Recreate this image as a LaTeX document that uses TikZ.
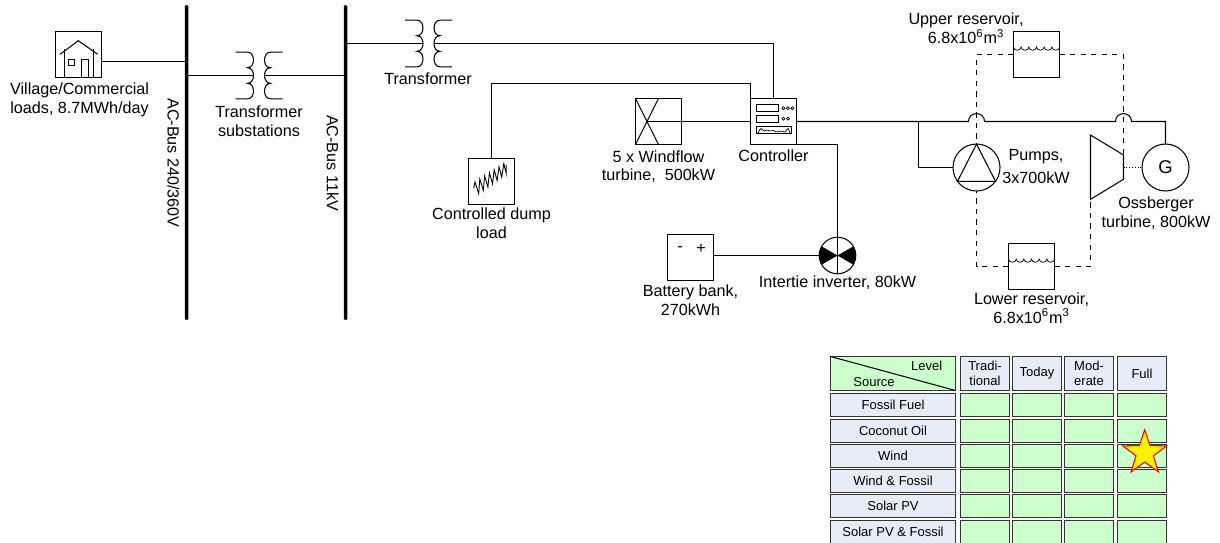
\documentclass[tikz,border=0pt]{standalone}
\usepackage{fontspec}
\setmainfont{Liberation Sans}
\usetikzlibrary{positioning, shapes.geometric}
\definecolor{cellgreen}{HTML}{CCFFCC}
\definecolor{cellblue}{HTML}{E6ECF8}
\tikzset{
    xfmr/.pic={
        \coordinate (-in) at (-5.5,0);
        \coordinate (-out) at (5.5,0);
        \draw (-23.5,-23.3) -- (-11.5,-23.3)
            .. controls (-3.5,-23.3) and (-3.5,-7.8) .. (-11.5,-7.8)
            .. controls (-3.5,-7.8) and (-3.5,7.8) .. (-11.5,7.8)
            .. controls (-3.5,7.8) and (-3.5,23.3) .. (-11.5,23.3) -- (-23.5,23.3);
        \draw (23.5,-23.3) -- (11.5,-23.3)
            .. controls (3.5,-23.3) and (3.5,-7.8) .. (11.5,-7.8)
            .. controls (3.5,-7.8) and (3.5,7.8) .. (11.5,7.8)
            .. controls (3.5,7.8) and (3.5,23.3) .. (11.5,23.3) -- (23.5,23.3);
    }
}
\begin{document}
\begin{tikzpicture}[
    x=0.02cm, y=-0.02cm,
    line width=0.6pt,
    font=\fontsize{9.2}{10.8}\selectfont,
    busbar/.style={fill=black, rounded corners=0.7pt, minimum width=0.07cm, minimum height=6.3cm, inner sep=0pt, outer sep=0pt},
    unit/.style={draw, minimum size=0.92cm, inner sep=0pt, outer sep=0pt},
    round/.style={draw, circle, minimum size=0.94cm, inner sep=0pt, outer sep=0pt},
    lbl/.style={align=center, inner sep=0pt},
    cell/.style={draw=black!80, fill=cellgreen, minimum width=0.98cm, minimum height=0.46cm, inner sep=0pt, outer sep=0pt},
    rowhead/.style={draw=black!80, fill=cellblue, minimum width=2.5cm, minimum height=0.46cm, inner sep=0pt, outer sep=0pt,
                    font=\fontsize{7.4}{8.9}\selectfont},
    colhead/.style={draw=black!80, fill=cellblue, minimum width=0.98cm, minimum height=0.68cm, inner sep=0pt, outer sep=0pt,
                    align=center, font=\fontsize{7.4}{8.9}\selectfont},
    water/.style={line width=0.4pt}
]
\useasboundingbox (0,0) rectangle (1220,542);
\node[busbar] (bus1) at (186.5,162.5) {};
\node[busbar] (bus2) at (345.5,162.5) {};
\node[lbl, rotate=-90] (bus1txt) at (173.3,163) {AC-Bus 240/360V};
\node[lbl, rotate=-90] (bus2txt) at (332.7,163) {AC-Bus 11kV};

\node[unit] (house) at (78.5,54.5) {};
\draw (60,54.3) -- (78.3,40.7) -- (97.7,54.3);
\draw (64.5,49) -- (64.5,77.5) (93.5,49) -- (93.5,77.5);
\draw (81.5,77.5) -- (81.5,59.5) -- (88.5,59.5) -- (88.5,77.5);
\draw (68.5,59.5) rectangle (74.5,65.5);
\node[lbl, below=2.5pt of house, xshift=0.6pt] (housetxt) {Village/Commercial\\loads, 8.7MWh/day};
\coordinate (housetap) at (101.5,61.5);
\draw (housetap) -- (housetap -| bus1);

\pic (xfma) at (259,75.5) {xfmr};
\pic (xfmb) at (428.5,43.5) {xfmr};
\draw (bus1 |- xfma-in) -- (xfma-in);
\draw (xfma-out) -- (bus2 |- xfma-out);
\draw (bus2 |- xfmb-in) -- (xfmb-in);
\node[lbl] (xfmatxt) at (259,121) {Transformer\\substations};
\node[lbl] (xfmbtxt) at (428,79) {Transformer};

\node[unit] (ctrl) at (773.5,121.5) {};
\draw (756.5,104.5) rectangle (778.5,111.5);
\draw (756.5,115.5) rectangle (778.5,122.5);
\draw (756.5,126.5) rectangle (791.5,133.5);
\foreach \cx/\cy in {783.3/108.3, 787.8/108.3, 792.3/108.3, 783.3/118.7, 788/118.7}
    \draw[line width=0.4pt] (\cx,\cy) circle[radius=0.03cm];
\draw[line width=0.4pt] plot[smooth] coordinates {(758,133) (761,128.5) (764,131) (767,130) (770,131) (773,130.5) (777,132) (781,131) (785,132) (788,128.5) (790,133)};
\node[lbl, below=2.5pt of ctrl] (ctrltxt) {Controller};
\draw (xfmb-out) -| (ctrl.north);

\node[unit] (dump) at (491.5,181.5) {};
\draw[line width=0.5pt] (473.7,188) foreach \t in {0,...,6} { -- ({475+4.8*\t},{182-3.05*\t}) -- ({478.7+4.6*\t},{193.7-3.3*\t}) } -- (506.3,165);
\node[lbl, below=1.5pt of dump] (dumptxt) {Controlled dump\\load};
\coordinate (dumpbend) at (491.5,83.5);
\draw (dump.north) -- (dumpbend) -| (ctrl.north west);

\node[unit] (wind) at (658.5,121.5) {};
\draw (wind.north west) -- (wind.south);
\draw (wind.north) -- (wind.south west);
\coordinate (windhub) at (647,121.5);
\node[lbl, below=3pt of wind] (windtxt) {5 x Windflow\\turbine,\ \ 500kW};
\draw (windhub) -- (ctrl.west);

\node[unit] (batt) at (690.5,257.5) {};
\node[lbl] (battneg) at (680,249) {-};
\node[lbl] (battpos) at (701,249) {+};
\node[lbl, below=2pt of batt] (batttxt) {Battery bank,\\270kWh};
\node[draw, circle, minimum size=0.732cm, inner sep=0pt, outer sep=0pt] (inv) at (837.5,255.5) {};
\fill (inv.center) -- (inv.150) arc[start angle=150, end angle=210, radius=0.366cm] -- cycle;
\fill (inv.center) -- (inv.-30) arc[start angle=-30, end angle=30, radius=0.366cm] -- cycle;
\draw (inv.north) -- (inv.south);
\node[lbl] (invtxt) at (837.5,283) {Intertie inverter, 80kW};
\draw (ctrl.south east) -| (inv.north);
\draw (batt.east |- inv.west) -- (inv.west);

\node[round] (pump) at (976.5,167.5) {};
\draw (pump.90) -- (pump.216) -- (pump.324) -- cycle;
\node[lbl] (pumptxt) at (1036,166.5) {Pumps,\\[2pt]3x700kW};
\node[round] (gen) at (1165.5,167.5) {\fontsize{10.5}{12}\selectfont G};
\coordinate (turbtop) at (1123.5,155);
\coordinate (turbbot) at (1090.5,199.3);
\coordinate (turbhub) at (1123.5,167.5);
\draw (1090.5,135) -- (turbtop) -- (1123.5,179.3) -- (turbbot) -- cycle;
\draw[densely dotted] (turbhub) -- (gen.west);
\node[lbl] (turbtxt) at (1156,213) {Ossberger\\turbine, 800kW};
\coordinate (tap) at (918.5,121.5);
\draw (ctrl.east) -- (968.5,121.5) .. controls (968.5,111) and (984.5,111) .. (984.5,121.5)
    -- (1115.5,121.5) .. controls (1115.5,111) and (1131.5,111) .. (1131.5,121.5) -| (gen.north);
\draw (tap) |- (pump.west);

\node[unit] (upres) at (1036.5,54.5) {};
\draw[water] (upres.west |- 0,47) foreach \i in {1,...,6} {arc[start angle=180, end angle=360, x radius=0.0767cm, y radius=0.065cm]};
\node[lbl] (uprestxt) at (966,28.5) {Upper reservoir,\\6.8x10\textsuperscript{6}m\textsuperscript{3}};
\node[unit] (lowres) at (1031.5,266.5) {};
\draw[water] (lowres.west |- 0,259) foreach \i in {1,...,6} {arc[start angle=180, end angle=360, x radius=0.0767cm, y radius=0.065cm]};
\node[lbl, below=1.5pt of lowres] (lowrestxt) {Lower reservoir,\\6.8x10\textsuperscript{6}m\textsuperscript{3}};
\draw[dashed] (upres.west) -| (pump.north);
\draw[dashed] (upres.east) -| (turbtop);
\draw[dashed] (lowres.west) -| (pump.south);
\draw[dashed] (lowres.east) -| (turbbot);

\node[draw=black!80, fill=cellgreen, minimum width=2.5cm, minimum height=0.68cm, inner sep=0pt, outer sep=0pt] (hdr) at (893,373.5) {};
\draw (hdr.north west) -- (hdr.south east);
\node[lbl, font=\fontsize{7.4}{8.9}\selectfont] (hdrlevel) at (926.7,365.7) {Level};
\node[lbl, font=\fontsize{7.4}{8.9}\selectfont] (hdrsource) at (874,382) {Source};
\foreach \n/\cx/\txt in {1/985/{Tradi-\\tional}, 2/1037/Today, 3/1089/{Mod-\\erate}, 4/1142/Full}
    \node[colhead] (col\n) at (\cx,373.5) {\txt};
\foreach \n/\cy/\txt in {1/405/Fossil Fuel, 2/431/Coconut Oil, 3/456/Wind, 4/481/Wind \& Fossil, 5/506/Solar PV, 6/532/Solar PV \& Fossil}{
    \node[rowhead] (row\n) at (893,\cy) {\txt};
    \foreach \m in {1,...,4}
        \node[cell] (cell\n\m) at (col\m |- row\n) {};
}
\node[star, star points=5, star point ratio=2.55, draw=red, fill=yellow, minimum size=0.93cm, inner sep=0pt] (mark) at (1144.7,453) {};
\end{tikzpicture}
\end{document}
